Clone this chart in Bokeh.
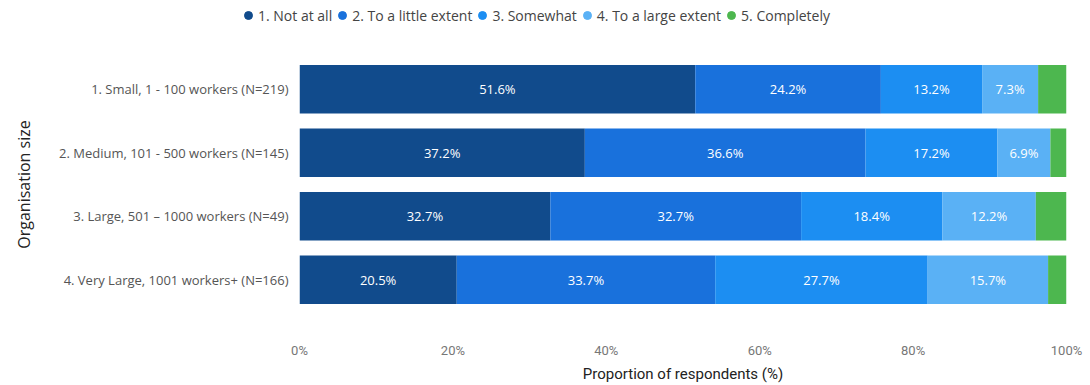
from bokeh.plotting import figure
from bokeh.layouts import column
from bokeh.models import (ColumnDataSource, Legend, LegendItem, LabelSet,
                          NumeralTickFormatter, FixedTicker, Range1d)
from bokeh.core.properties import value
from bokeh.embed import file_html
from bokeh.resources import INLINE

categories = ["1. Small, 1 - 100 workers (N=219)",
              "2. Medium, 101 - 500 workers (N=145)",
              "3. Large, 501 \u2013 1000 workers (N=49)",
              "4. Very Large, 1001 workers+ (N=166)"]
series = ["1. Not at all", "2. To a little extent", "3. Somewhat",
          "4. To a large extent", "5. Completely"]
not_at_all = [51.6, 37.2, 32.7, 20.5]
little = [24.2, 36.6, 32.7, 33.7]
somewhat = [13.2, 17.2, 18.4, 27.7]
large = [7.3, 6.9, 12.2, 15.7]
completely = [3.7, 2.1, 4.0, 2.4]
colors = ["#114B8C", "#1971DC", "#1C8EF2", "#5AB1F5", "#4DB74F"]
x_ticks = [0, 20, 40, 60, 80, 100]

keys = ["s1", "s2", "s3", "s4", "s5"]
values = [not_at_all, little, somewhat, large, completely]
data = {"cat": categories}
for k, v in zip(keys, values):
    data[k] = [x / 100 for x in v]
source = ColumnDataSource(data)

# ---- legend strip (separate figure so the legend is not clipped) ----
leg = figure(width=1090, height=40, x_range=Range1d(0, 1), y_range=Range1d(0, 1),
             output_backend="svg", toolbar_location=None,
             min_border_left=0, min_border_right=0, min_border_top=0,
             min_border_bottom=0, x_axis_location=None, y_axis_location=None)
leg.xgrid.grid_line_color = None
leg.ygrid.grid_line_color = None
leg.outline_line_color = None
items = []
for s, c in zip(series, colors):
    r = leg.scatter(x=[float("nan")], y=[float("nan")], marker="circle",
                    size=11, color=c)
    items.append(LegendItem(label=s, renderers=[r]))

legend_x = 238
try:
    leg.frame_align = False
except Exception:
    legend_x = 238 - 299

legend = Legend(items=items, orientation="horizontal", location=(legend_x, 15),
                label_text_font="Open Sans", label_text_font_size="14px",
                label_text_color="#444444", glyph_width=20, glyph_height=20,
                label_standoff=0, spacing=0, padding=0, margin=0,
                border_line_color=None, background_fill_alpha=0)
leg.add_layout(legend, "center")

# ---- main chart ----
p = figure(y_range=list(reversed(categories)), x_range=Range1d(0, 1),
           width=1090, height=345, output_backend="svg", toolbar_location=None,
           min_border_left=299, min_border_right=24, min_border_bottom=65,
           min_border_top=17)
try:
    p.frame_align = False
except Exception:
    pass

p.hbar_stack(keys, y="cat", height=0.76, color=colors, source=source,
             line_color=None)

lab_cat, lab_x, lab_t = [], [], []
for i, c in enumerate(categories):
    cum = 0.0
    for j in range(4):
        v = values[j][i]
        lab_cat.append(c)
        lab_x.append((cum + v / 2) / 100)
        lab_t.append(f"{v:.1f}%")
        cum += v
lsrc = ColumnDataSource(dict(cat=lab_cat, x=lab_x, t=lab_t))
p.add_layout(LabelSet(x="x", y="cat", text="t", source=lsrc,
                      text_color="white", text_font=value("Open Sans"),
                      text_font_size="13px", text_align="center",
                      text_baseline="middle"))

p.xaxis.ticker = FixedTicker(ticks=[t / 100 for t in x_ticks])
p.xaxis.formatter = NumeralTickFormatter(format="0%")
p.xaxis.axis_line_color = None
p.xaxis.major_tick_line_color = None
p.xaxis.minor_tick_line_color = None
p.xaxis.major_label_standoff = 25
p.xaxis.major_label_text_font = "Roboto"
p.xaxis.major_label_text_font_size = "13px"
p.xaxis.major_label_text_color = "#777777"
p.xaxis.axis_label = "Proportion of respondents (%)"
p.xaxis.axis_label_text_font = "Roboto"
p.xaxis.axis_label_text_font_size = "15px"
p.xaxis.axis_label_text_font_style = "normal"
p.xaxis.axis_label_text_color = "#222222"
p.xaxis.axis_label_standoff = 4

p.yaxis.axis_line_color = None
p.yaxis.major_tick_line_color = None
p.yaxis.minor_tick_line_color = None
p.yaxis.major_label_text_font = "Open Sans"
p.yaxis.major_label_text_font_size = "13px"
p.yaxis.major_label_text_color = "#555555"
p.yaxis.major_label_standoff = 5
p.yaxis.axis_label = "Organisation size"
p.yaxis.axis_label_text_font = "Open Sans"
p.yaxis.axis_label_text_font_size = "16px"
p.yaxis.axis_label_text_font_style = "normal"
p.yaxis.axis_label_text_color = "#222222"
p.yaxis.axis_label_standoff = 21

p.xgrid.grid_line_color = None
p.ygrid.grid_line_color = None
p.outline_line_color = None
p.y_range.range_padding = 0

layout = column(leg, p, spacing=0)
open("out.html", "w").write(file_html(layout, INLINE))
